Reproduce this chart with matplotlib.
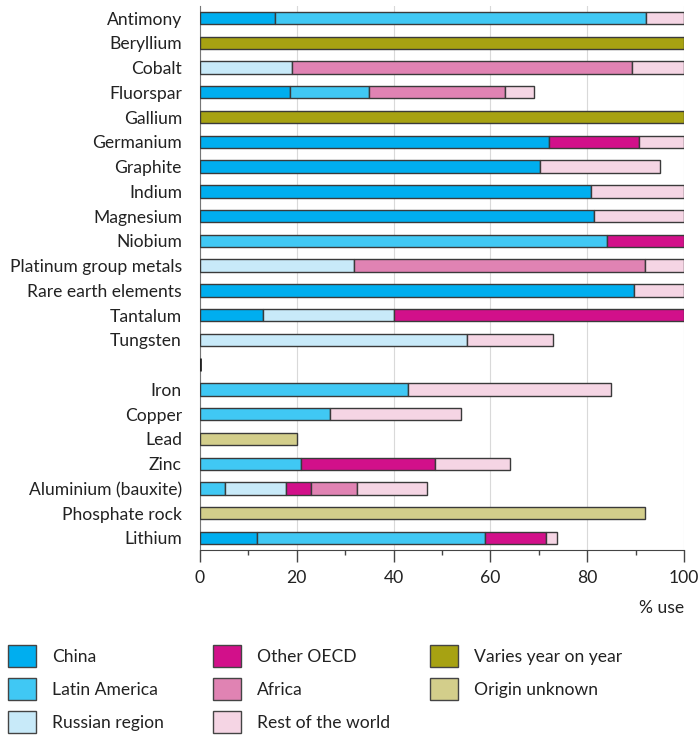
import numpy as np
import matplotlib
matplotlib.use('Agg')
import matplotlib.pyplot as plt
from matplotlib.patches import Patch

plt.rcParams['font.family'] = ['Lato', 'DejaVu Sans']

# 데이터
materials = ["Antimony", "Beryllium", "Cobalt", "Fluorspar", "Gallium", "Germanium",
             "Graphite", "Indium", "Magnesium", "Niobium", "Platinum group metals",
             "Rare earth elements", "Tantalum", "Tungsten", "",
             "Iron", "Copper", "Lead", "Zinc", "Aluminium (bauxite)",
             "Phosphate rock", "Lithium"]

china   = [15.4, 0, 0, 18.5, 0, 72.2, 70.3, 80.8, 81.4, 0, 0, 89.6, 13.0, 0, 0,
           0, 0, 0, 0, 0, 0, 11.8]
latin   = [76.7, 0, 0, 16.4, 0, 0, 0, 0, 0, 84.0, 0, 0, 0, 0, 0,
           43.0, 26.9, 0, 20.8, 5.1, 0, 47.1]
russian = [0, 0, 19.0, 0, 0, 0, 0, 0, 0, 0, 31.9, 0, 27.0, 55.1, 0,
           0, 0, 0, 0, 12.7, 0, 0]
oecd    = [0, 0, 0, 0, 0, 18.6, 0, 0, 0, 16.0, 0, 0, 60.0, 0, 0,
           0, 0, 0, 27.7, 5.1, 0, 12.6]
africa  = [0, 0, 70.2, 28.2, 0, 0, 0, 0, 0, 0, 60.0, 0, 0, 0, 0,
           0, 0, 0, 0, 9.5, 0, 0]
rest    = [7.9, 0, 10.8, 5.9, 0, 9.2, 24.7, 19.2, 18.6, 0, 8.1, 10.4, 0, 17.8, 0,
           42.0, 27.0, 0, 15.5, 14.6, 0, 2.3]
varies  = [0, 100, 0, 0, 100, 0, 0, 0, 0, 0, 0, 0, 0, 0, 0,
           0, 0, 0, 0, 0, 0, 0]
unknown = [0, 0, 0, 0, 0, 0, 0, 0, 0, 0, 0, 0, 0, 0, 0,
           0, 0, 20.0, 0, 0, 92.0, 0]

series_names = ["China", "Latin America", "Russian region", "Other OECD", "Africa",
                "Rest of the world", "Varies year on year", "Origin unknown"]
series_vals = [china, latin, russian, oecd, africa, rest, varies, unknown]
colors = ['#00AEEF', '#40C8F4', '#C8EAF9', '#D2108A', '#E083B3', '#F5D5E4',
          '#A7A212', '#D3CE8B']
edge = '#3a3a3a'
fs = 12.6

fig = plt.figure(figsize=(6.99, 7.35), dpi=100)
ax = fig.add_axes([200/699, 1 - 550/735, 484/699, 544/735])

y = np.arange(len(materials))
left = np.zeros(len(materials))
for name, vals, c in zip(series_names, series_vals, colors):
    vals = np.array(vals, dtype=float)
    idx = vals > 0
    ax.barh(y[idx], vals[idx], left=left[idx], height=0.5, color=c,
            edgecolor=edge, linewidth=1, zorder=3)
    left += vals

# 빈 줄 (구분선)
empty = left == 0
ax.barh(y[empty], 0, height=0.5, color='none', edgecolor='#222222', linewidth=2, zorder=3)

ax.set_xlim(0, 100)
ax.set_ylim(len(materials) - 0.515, -0.485)
ax.set_yticks(y)
ax.set_yticklabels(materials, fontsize=fs, color='#222222')
ax.tick_params(axis='y', length=0, pad=13)

ax.set_xticks(np.arange(0, 101, 20))
ax.set_xticks(np.arange(0, 101, 10), minor=True)
ax.tick_params(axis='x', which='major', length=8.5, width=1, color='#444444',
               labelsize=fs, labelcolor='#222222', pad=6)
ax.tick_params(axis='x', which='minor', length=3.6, width=1, color='#444444')
ax.xaxis.grid(True, which='major', color='#d9d9d9', linewidth=0.8, zorder=0)
ax.set_axisbelow(True)

for s in ['top', 'right']:
    ax.spines[s].set_visible(False)
ax.spines['left'].set_color('#777777')
ax.spines['bottom'].set_color('#444444')

fig.text(684/699, 1 - 608/735, '% use', ha='right', va='center', fontsize=fs,
         color='#222222')

# 범례 3열
handles = [Patch(facecolor=c, edgecolor='#444444', linewidth=1) for c in colors]
col_x = [8, 213, 430]
cols = [[0, 1, 2], [3, 4, 5], [6, 7]]
for x0, ids in zip(col_x, cols):
    fig.legend([handles[i] for i in ids], [series_names[i] for i in ids],
               loc='upper left', bbox_to_anchor=(x0/699, 1 - 645/735),
               frameon=False, fontsize=fs, handlelength=1.6, handleheight=1.6,
               handletextpad=0.9, labelspacing=0.6, borderpad=0, borderaxespad=0,
               labelcolor='#222222')

plt.savefig('out.png', dpi=100)
